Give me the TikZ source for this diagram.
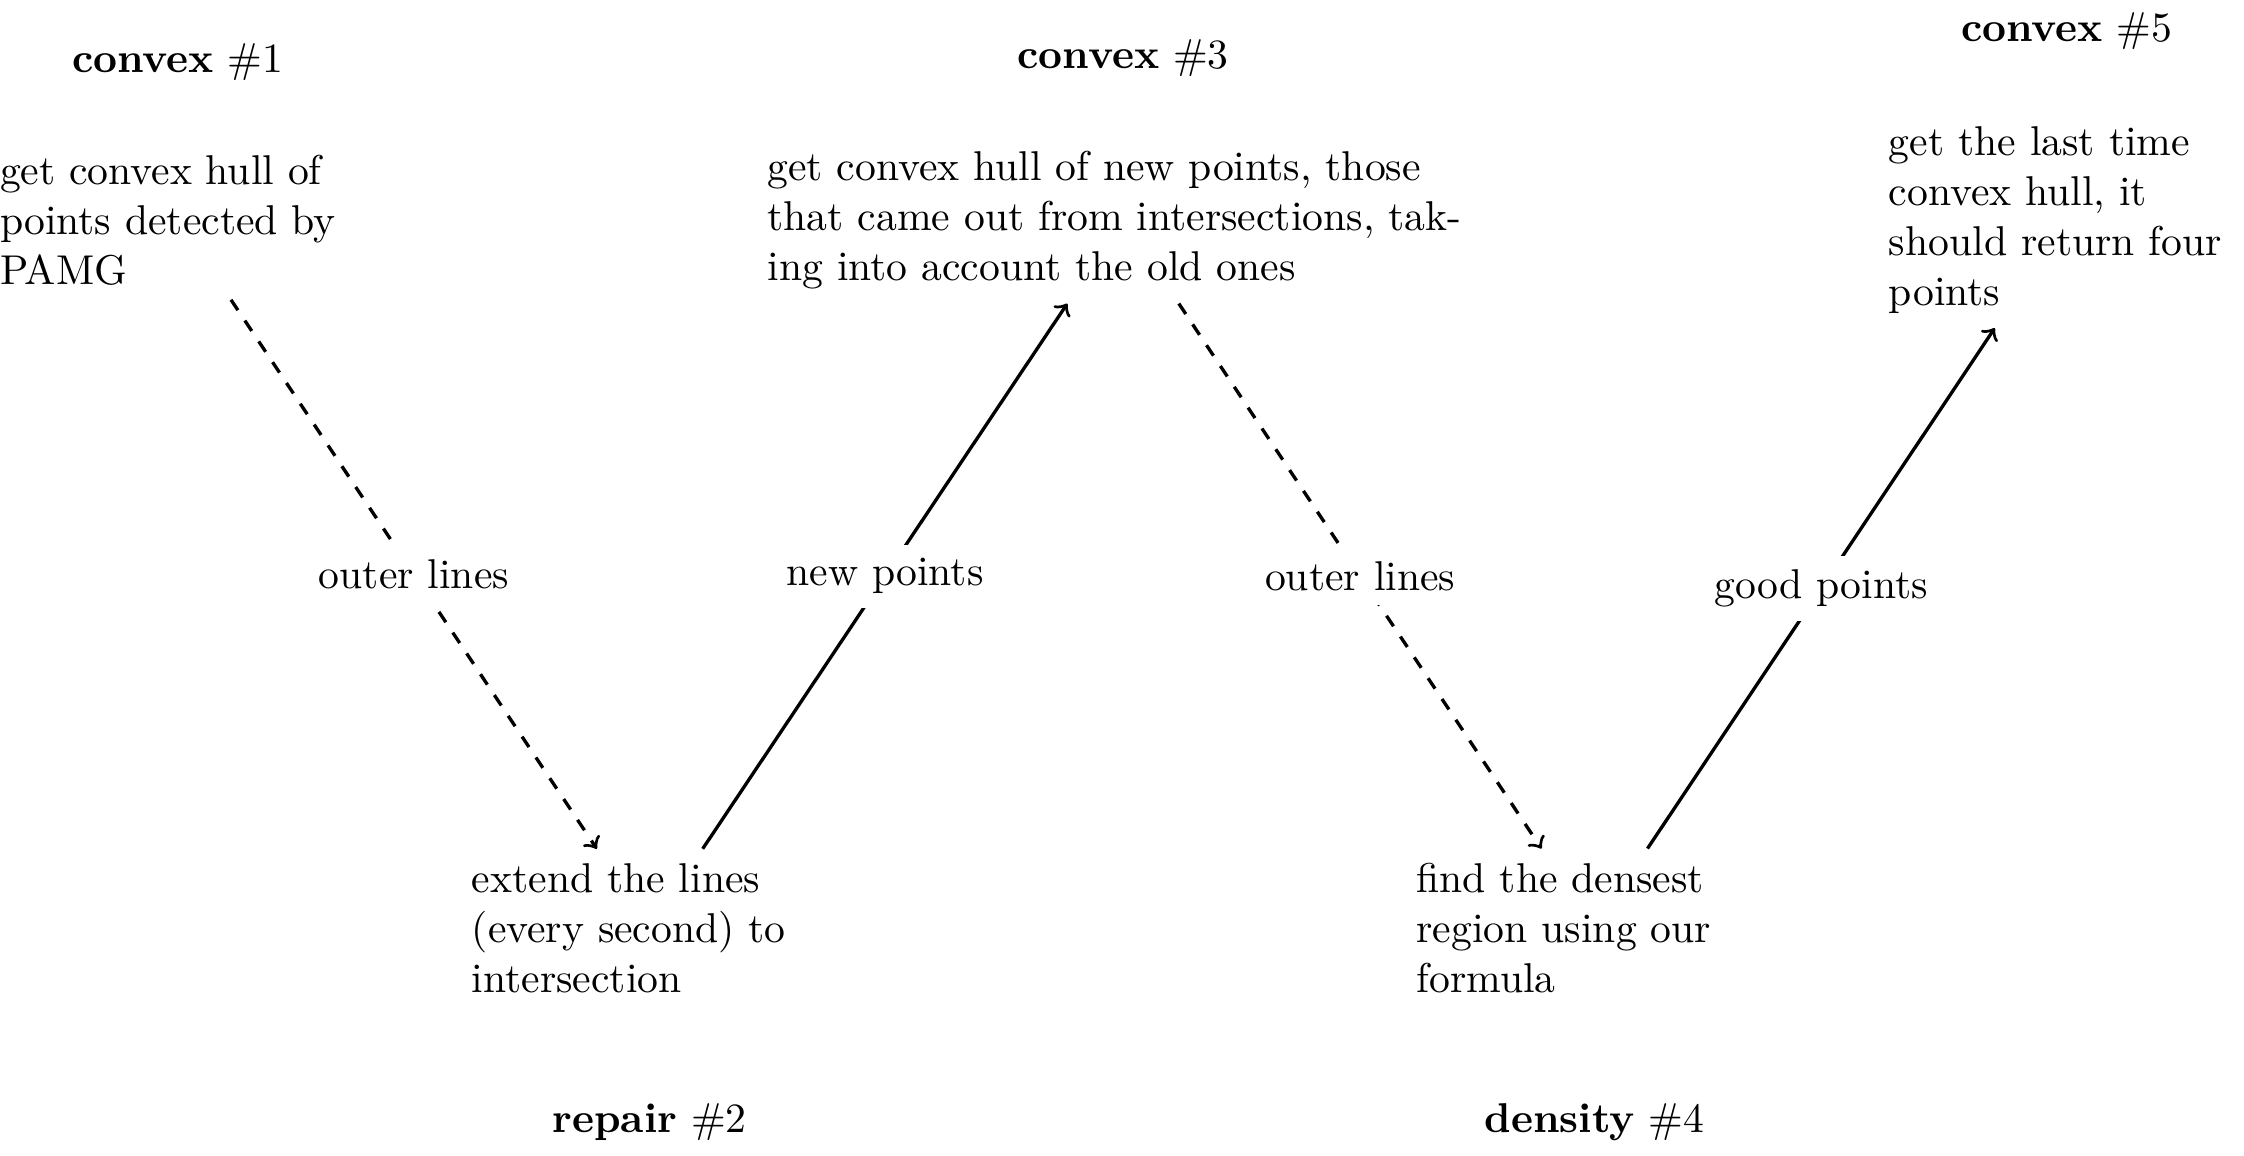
\documentclass[tikz,border=0pt]{standalone}
\usetikzlibrary{positioning}

\begin{document}
\begin{tikzpicture}

\tikzset{stage/.style={text width=3cm, align=left}}
\tikzset{widestage/.style={stage, text width=6cm}}
\tikzset{heading/.style={align=center}}
\tikzset{flow/.style={->, >=to, thick}}
\tikzset{solidpath/.style={flow}}
\tikzset{dashpath/.style={flow, dashed}}
\tikzset{edgelabel/.style={fill=white}}
\useasboundingbox (0,0) rectangle (18.93,-9.75);
\node[stage] (c1) at (1.50,-1.855) {get convex hull of points detected by PAMG};
\node[stage] (r2) at (5.48,-7.83) {extend the lines (every second) to intersection};
\node[widestage] (c3) at (9.475,-1.855) {get convex hull of new points, those that came out from intersections, taking into account the old ones};
\node[stage] (d4) at (13.45,-7.83) {find the densest region using our formula};
\node[stage] (c5) at (17.435,-1.855) {get the last time convex hull, it should return four points};
\node[heading, above=10.8pt of c1] (c1title) {\textbf{convex} \#1};
\node[heading, below=19.5pt of r2] (r2title) {\textbf{repair} \#2};
\node[heading, above=10.8pt of c3] (c3title) {\textbf{convex} \#3};
\node[heading, below=19.5pt of d4] (d4title) {\textbf{density} \#4};
\node[heading, above=11.4pt of c5] (c5title) {\textbf{convex} \#5};
\draw[dashpath] (c1) edge node[edgelabel]{outer lines} (r2);
\draw[solidpath] (r2) edge node[edgelabel]{new points} (c3);
\draw[dashpath] (c3) edge node[edgelabel]{outer lines} (d4);
\draw[solidpath] (d4) edge node[edgelabel]{good points} (c5);

\end{tikzpicture}
\end{document}
